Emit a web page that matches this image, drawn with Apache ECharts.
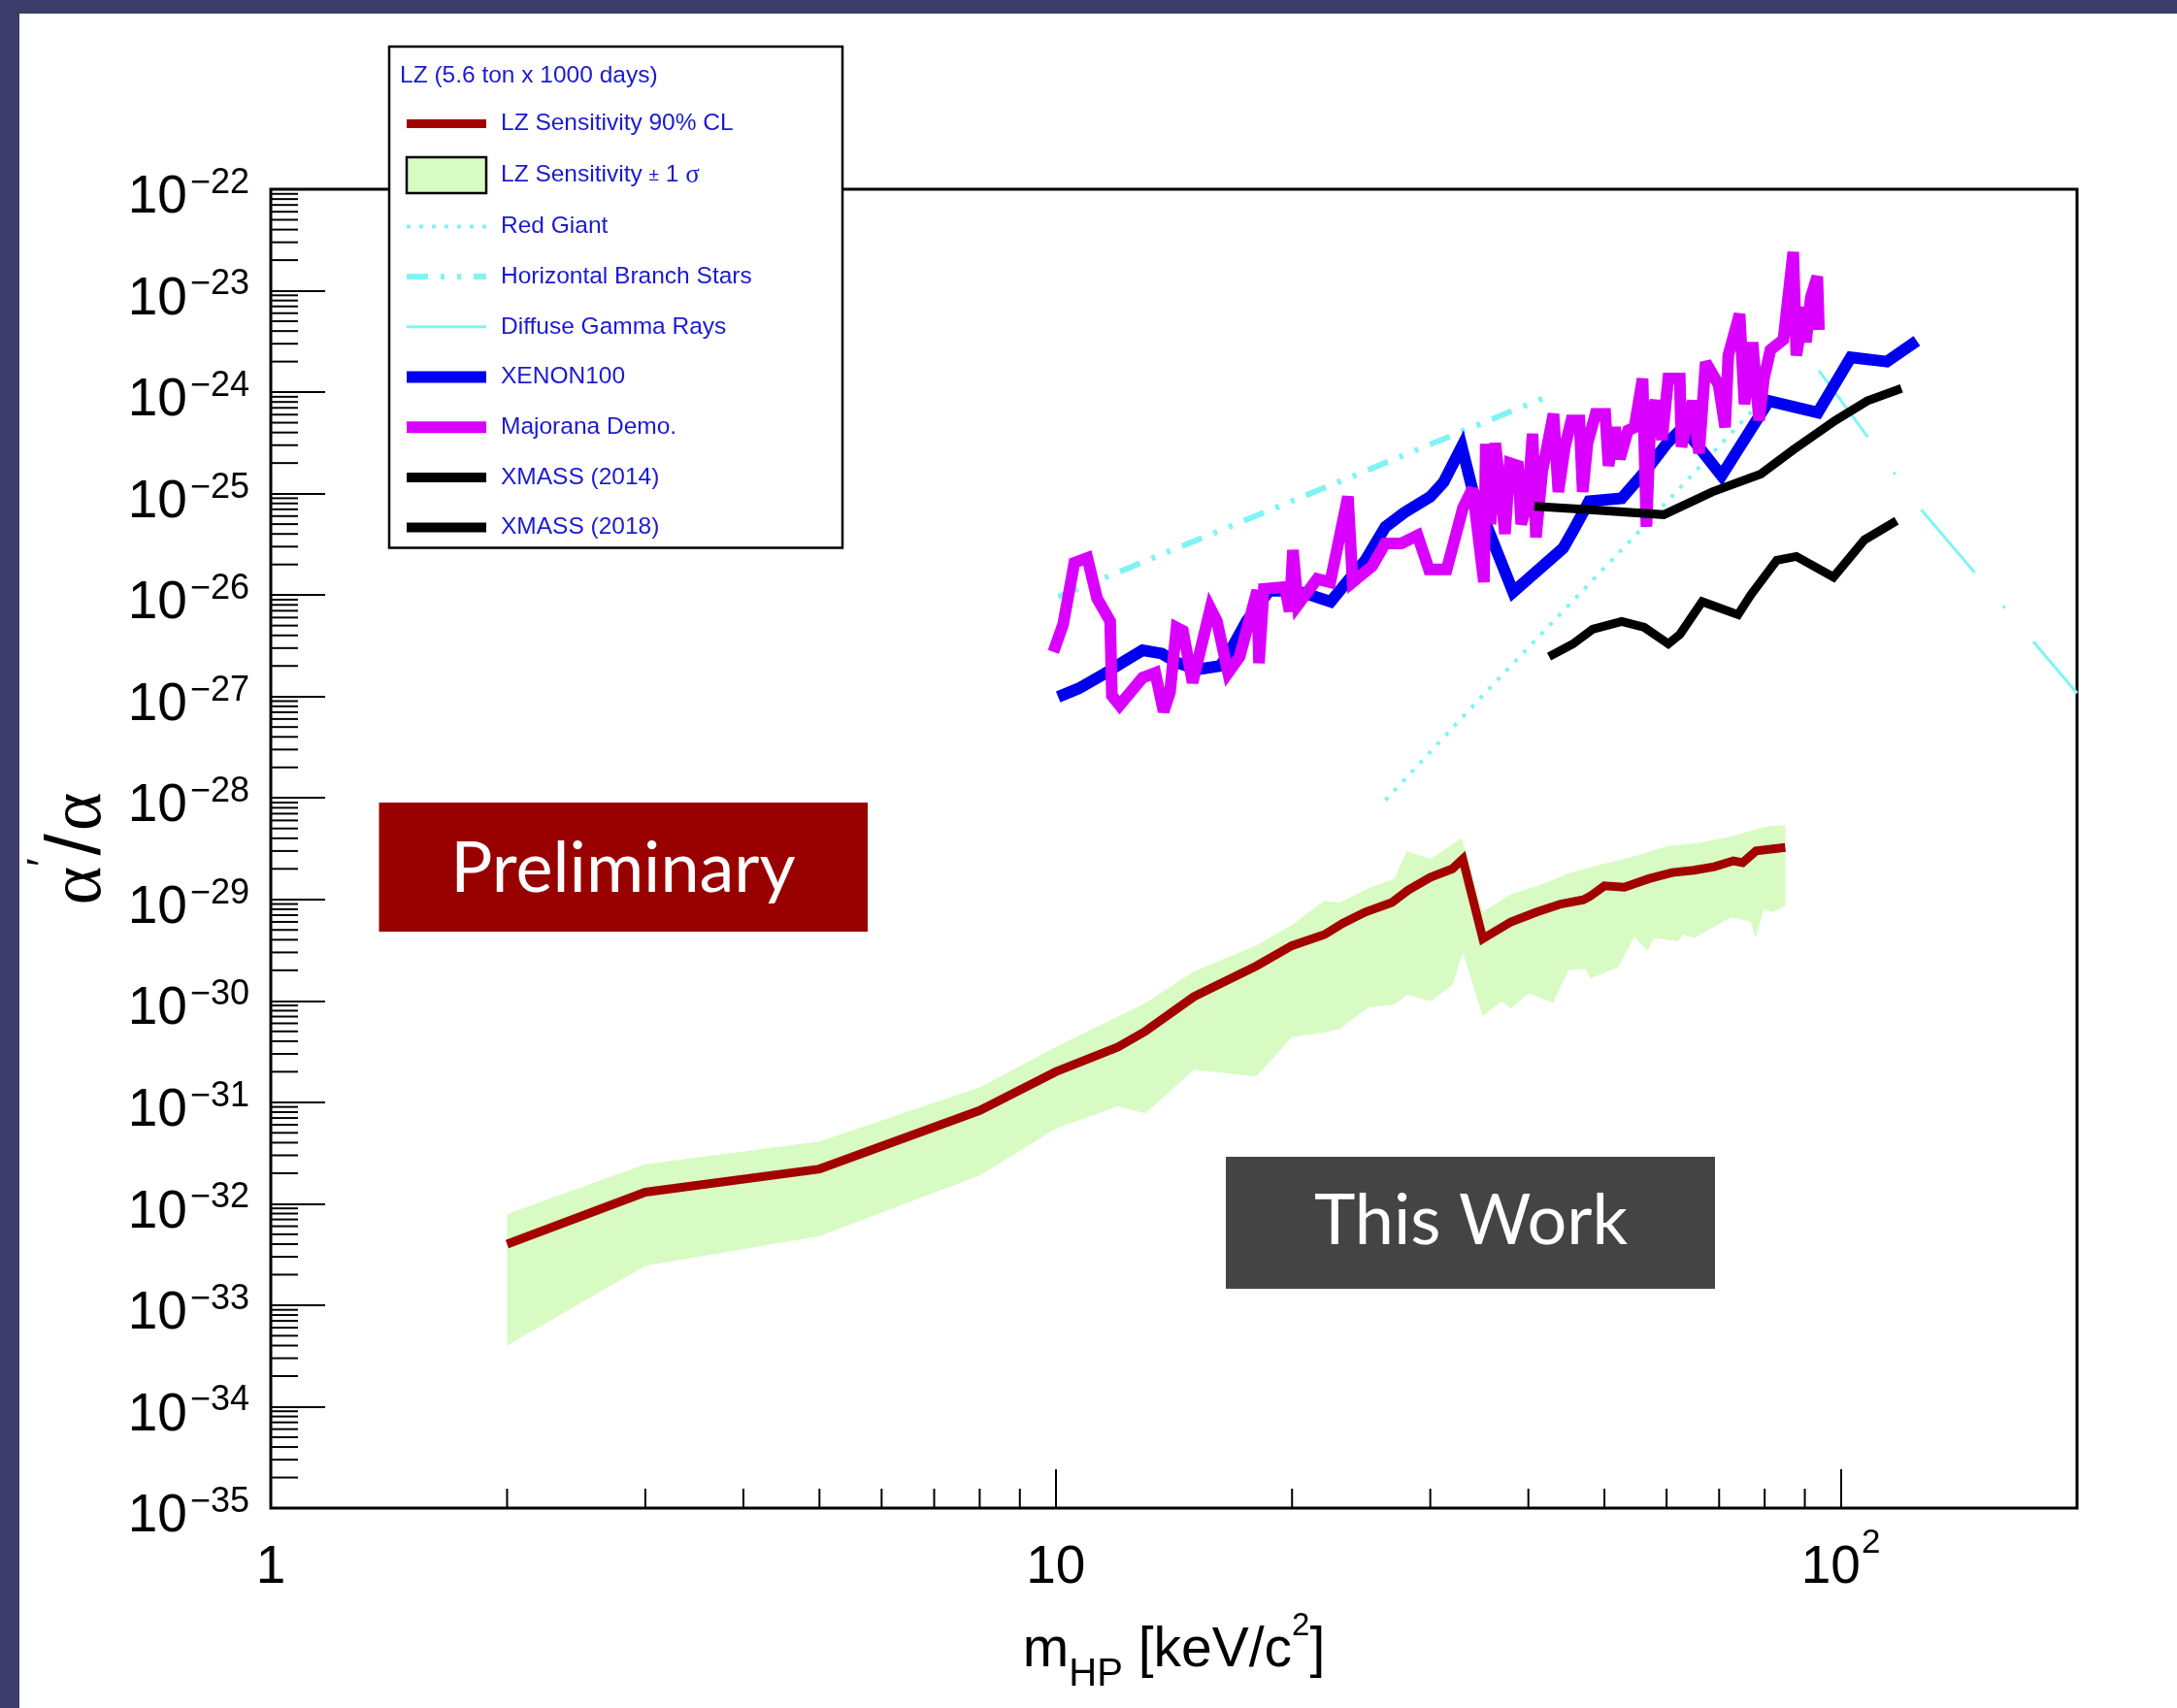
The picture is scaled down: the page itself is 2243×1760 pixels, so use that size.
<!DOCTYPE html>
<html>
<head>
<meta charset="utf-8">
<script src="https://cdn.jsdelivr.net/npm/echarts@6/dist/echarts.min.js"></script>
<style>
html, body { margin: 0; padding: 0; background: #3c3d6a; }
#chart { width: 2243px; height: 1760px; }
</style>
</head>
<body>
<div id="chart"></div>
<script>
// Hidden-photon dark matter: kinetic-mixing limits alpha'/alpha versus mass m_HP

// LZ projected sensitivity, 90% CL
const lzMass  = [2, 3, 5, 8, 10, 12, 13, 15, 18, 20, 22, 23.2, 24.8, 26.8, 28.1, 30, 32, 33, 35, 38, 41, 44, 47, 48, 50, 53, 57, 61, 65, 69, 73, 75, 78, 85];
const lzLimit = [4.0e-33, 1.3e-32, 2.2e-32, 8.3e-32, 2.0e-31, 3.5e-31, 5.0e-31, 1.1e-30, 2.2e-30, 3.5e-30, 4.5e-30, 5.8e-30, 7.5e-30, 9.3e-30, 1.23e-29, 1.65e-29, 2.0e-29, 2.5e-29, 4.1e-30, 6.0e-30, 7.5e-30, 9.0e-30, 9.9e-30, 1.08e-29, 1.36e-29, 1.32e-29, 1.6e-29, 1.84e-29, 1.94e-29, 2.1e-29, 2.4e-29, 2.3e-29, 3.0e-29, 3.25e-29];

// LZ +/- 1 sigma band edges
const bandUpMass = [2, 3, 5, 8, 10, 13, 15, 18, 20, 22, 23, 25.1, 27, 28, 30, 32.9, 35, 38, 41, 45, 50, 55, 60, 66, 73, 80, 85];
const bandUpVal  = [7.9e-33, 2.45e-32, 4.1e-32, 1.4e-31, 3.5e-31, 9.5e-31, 1.95e-30, 3.5e-30, 5.6e-30, 9.7e-30, 9.3e-30, 1.3e-29, 1.6e-29, 3.0e-29, 2.5e-29, 4.0e-29, 7.5e-30, 1.12e-29, 1.35e-29, 1.8e-29, 2.25e-29, 2.7e-29, 3.35e-29, 3.6e-29, 4.2e-29, 5.2e-29, 5.4e-29];
const bandLoMass = [2, 3, 5, 8, 10, 12, 13, 15, 18, 20, 22, 23, 25, 27, 28, 30, 32, 33, 35, 37, 38, 40, 43, 45, 47.3, 48, 52, 54.6, 56.7, 57.8, 62, 63, 65, 72.6, 76.8, 77.9, 79.8, 82, 85];
const bandLoVal  = [4.0e-34, 2.45e-33, 4.8e-33, 1.9e-32, 5.5e-32, 9.2e-32, 7.8e-32, 2.1e-31, 1.8e-31, 4.4e-31, 4.9e-31, 5.3e-31, 8.6e-31, 9.2e-31, 1.15e-30, 9.9e-31, 1.43e-30, 3.0e-30, 7.1e-31, 9.9e-31, 8.4e-31, 1.19e-30, 9.6e-31, 2.0e-30, 2.07e-30, 1.66e-30, 2.14e-30, 4.3e-30, 3.1e-30, 4.15e-30, 3.86e-30, 4.5e-30, 4.15e-30, 6.7e-30, 6.0e-30, 4.15e-30, 8.0e-30, 7.5e-30, 8.65e-30];

// Astrophysical bounds
const rgMass = [26.3, 35.3, 56.2, 78];
const rgVal  = [9.5e-29, 1.1e-27, 4.8e-26, 7.2e-25];
const hbMass = [10.07, 41.9];
const hbVal  = [9.6e-27, 8.8e-25];
const dgMass = [93.8, 126.5, 200];
const dgVal  = [1.63e-24, 7.0e-26, 1.08e-27];

// XENON100
const xeMass = [10.07, 10.7, 11.5, 12.2, 12.9, 13.65, 14.3, 15.15, 16.2, 16.7, 17.5, 18.7, 20.15, 21.1, 22.4, 23.5, 24.8, 26.3, 27.8, 30.0, 31.2, 32.9, 34.0, 38.25, 44.3, 45.6, 47.8, 52.6, 56.7, 60, 63, 70.5, 81, 93.5, 103, 114.5, 125];
const xeVal  = [9.9e-28, 1.2e-27, 1.65e-27, 2.2e-27, 2.85e-27, 2.65e-27, 2.15e-27, 1.85e-27, 2.0e-27, 2.85e-27, 5.5e-27, 1.1e-26, 1.1e-26, 1.0e-26, 8.6e-27, 1.35e-26, 2.2e-26, 4.7e-26, 6.5e-26, 9.3e-26, 1.3e-25, 2.9e-25, 1.05e-25, 1.07e-26, 2.9e-26, 4.3e-26, 8.4e-26, 9.0e-26, 1.75e-25, 3.1e-25, 4.5e-25, 1.5e-25, 8.2e-25, 6.3e-25, 2.2e-24, 2.0e-24, 3.2e-24];

// Majorana Demonstrator
const mjMass = [9.93, 10.22, 10.56, 10.97, 11.29, 11.73, 11.79, 12.06, 12.9, 13.39, 13.72, 13.98, 14.25, 14.52, 14.94, 15.74, 16.04, 16.58, 17.15, 18.06, 18.15, 18.41, 19.58, 19.86, 20.05, 20.34, 21.53, 22.37, 23.56, 23.89, 25.3, 26.28, 27.56, 28.9, 29.88, 31.48, 33.02, 33.96, 35.11, 35.3, 35.8, 36.3, 36.8, 37.35, 37.88, 38.8, 39.17, 39.92, 40.5, 40.9, 41.65, 43.06, 43.68, 44.53, 45.37, 46.47, 46.91, 47.58, 48.72, 50.12, 50.6, 51.57, 52.31, 53.58, 54.6, 55.92, 56.56, 57.26, 58.08, 59.2, 60.3, 62.37, 62.67, 64.77, 66.0, 67.28, 69.89, 71.24, 71.91, 74.33, 75.4, 77.21, 78.7, 79.83, 81.36, 84.53, 87.0, 87.8, 89.86, 90.3, 91.6, 93.37, 93.8];
const mjVal  = [2.75e-27, 5.15e-27, 2.08e-26, 2.32e-26, 9.25e-27, 5.53e-27, 1.02e-27, 8.2e-28, 1.53e-27, 1.71e-27, 7.1e-28, 1.1e-27, 4.78e-27, 4.44e-27, 1.37e-27, 7.4e-27, 5.53e-27, 1.71e-27, 2.47e-27, 1.11e-26, 2.13e-27, 1.15e-26, 1.2e-26, 6.9e-27, 2.78e-26, 8.0e-27, 1.44e-26, 1.34e-26, 9.35e-26, 1.34e-26, 1.93e-26, 3.23e-26, 3.23e-26, 3.87e-26, 1.79e-26, 1.79e-26, 7.24e-26, 1.12e-25, 1.34e-26, 3.1e-25, 5.0e-26, 3.14e-25, 1.21e-25, 4.0e-26, 2.0e-25, 1.88e-25, 5.0e-26, 8.4e-26, 3.9e-25, 3.7e-26, 1.62e-25, 6.1e-25, 1.04e-25, 2.9e-25, 5.25e-25, 5.25e-25, 1.04e-25, 3.14e-25, 6.1e-25, 6.1e-25, 1.88e-25, 4.5e-25, 2.2e-25, 4.2e-25, 4.5e-25, 1.36e-24, 4.7e-26, 6.1e-25, 8.2e-25, 3.4e-25, 1.36e-24, 1.36e-24, 2.9e-25, 8.2e-25, 2.5e-25, 1.97e-24, 1.18e-24, 4.5e-25, 2.3e-24, 5.9e-24, 7.6e-25, 3.1e-24, 5.25e-25, 1.36e-24, 2.6e-24, 3.3e-24, 2.4e-23, 2.3e-24, 6.9e-24, 3.1e-24, 8.6e-24, 1.38e-23, 4.1e-24];

// XMASS results
const x14Mass = [40.7, 46.9, 59.5, 68.6, 79.1, 87, 98.4, 108.1, 119.5];
const x14Val  = [7.5e-26, 7.0e-26, 6.2e-26, 1.04e-25, 1.56e-25, 2.7e-25, 5.25e-25, 8.2e-25, 1.09e-24];
const x18Mass = [42.5, 45.6, 48.3, 52.6, 56.2, 60.3, 62.4, 66.6, 74.0, 76.8, 82.9, 87.8, 97.9, 107.2, 117.8];
const x18Val  = [2.47e-27, 3.3e-27, 4.6e-27, 5.5e-27, 4.8e-27, 3.3e-27, 4.1e-27, 8.6e-27, 6.4e-27, 1.0e-26, 2.2e-26, 2.4e-26, 1.5e-26, 3.5e-26, 5.4e-26];

// Axis tick labels (decade exponents) and minor tick positions
const xTickExp  = [0, 1, 2];
const xTickBase = ['1', '10', '10'];
const xTickSup  = ['', '', '2'];
const yTickExp  = [-35, -34, -33, -32, -31, -30, -29, -28, -27, -26, -25, -24, -23, -22];
const xMinorTicks = [2, 3, 4, 5, 6, 7, 8, 9, 20, 30, 40, 50, 60, 70, 80, 90];
const minorMantissa = [2, 3, 4, 5, 6, 7, 8, 9];

const SANS = '"Liberation Sans", Arial, Helvetica, sans-serif';
const SERIF = '"Liberation Serif", "DejaVu Serif", serif';
const BOX_FONT = 'Lato, "Open Sans", sans-serif';
const LEGEND_BLUE = '#1a1ad2';
const CYAN = '#80f4f4';
const GREEN = '#d7fbc2';
const X_MIN = 1, Y_MIN = 1e-35;

const pairs = (xs, ys) => xs.map((x, i) => [x, ys[i]]);

const xMajorValues = xTickExp.map(e => Math.pow(10, e));
const yMinorData = [];
yTickExp.slice(0, -1).forEach(e => minorMantissa.forEach(k => yMinorData.push([X_MIN, k * Math.pow(10, e)])));
const xMinorData = xMinorTicks.map(m => [m, Y_MIN]);

function decadeOf(v) {
  const l = Math.log10(v);
  return Math.abs(l - Math.round(l)) < 1e-6 ? Math.round(l) : null;
}

function xLabel(v) {
  const i = xTickExp.indexOf(decadeOf(v));
  if (i < 0) return '';
  return '{b|' + xTickBase[i] + '}' + (xTickSup[i] ? '{s|' + xTickSup[i] + '}' : '');
}

// The decade labels sit on an exponent axis that shares the grid with the log axis
function yLabel(e) {
  const n = Math.round(e);
  if (yTickExp.indexOf(n) < 0) return '';
  return '{b|10}{s|\u2212' + (-n) + '}';
}

const lineSeries = (name, xs, ys, color, width, type) => ({
  name, type: 'line', data: pairs(xs, ys), symbol: 'none', showSymbol: false,
  silent: true, clip: true, yAxisIndex: 0,
  lineStyle: { color, width, type: type || 'solid', join: 'miter', miterLimit: 3 },
  itemStyle: { color }
});

const legendLine = (name, width) => ({ name, lineStyle: { width }, itemStyle: { opacity: 0 } });

const chart = echarts.init(document.getElementById('chart'), null, { renderer: 'canvas', width: 2243, height: 1760 });

const option = {
  animation: false,
  backgroundColor: '#3c3d6a',
  textStyle: { fontFamily: SANS },
  title: {
    text: 'LZ (5.6 ton x 1000 days)',
    left: 412, top: 63, padding: 0, z: 10,
    textStyle: { fontFamily: SANS, fontSize: 24.5, fontWeight: 'normal', color: LEGEND_BLUE, lineHeight: 30 }
  },
  grid: { left: 279, top: 195, right: 103, bottom: 206, show: true, borderColor: '#000', borderWidth: 3 },
  xAxis: {
    type: 'log', logBase: 10, min: 1, max: 200,
    axisLine: { show: false },
    axisTick: { show: true, inside: true, length: 40, customValues: xMajorValues, lineStyle: { color: '#000', width: 2 } },
    minorTick: { show: false },
    splitLine: { show: false },
    axisLabel: {
      margin: 18, formatter: xLabel, customValues: xMajorValues,
      rich: {
        b: { fontSize: 55, fontFamily: SANS, color: '#000', padding: [16.5, 0, 0, 0] },
        s: { fontSize: 35, fontFamily: SANS, color: '#000', verticalAlign: 'top', padding: [1, 0, 0, 1] }
      }
    },
    name: '{m|m}{sub|HP}{m| [keV/c}{sup|2}{m|]}',
    nameLocation: 'middle', nameGap: 105.5,
    nameTextStyle: {
      rich: {
        m: { fontSize: 57, fontFamily: SANS, color: '#000', verticalAlign: 'top', padding: [13.3, 0, 0, 0] },
        sub: { fontSize: 40, fontFamily: SANS, color: '#000', verticalAlign: 'top', padding: [46.5, 0, 0, 0] },
        sup: { fontSize: 33, fontFamily: SANS, color: '#000', verticalAlign: 'top', padding: [0, 0, 0, 0] }
      }
    }
  },
  yAxis: [
    {
      type: 'log', logBase: 10, min: 1e-35, max: 1e-22,
      axisLine: { show: false }, axisTick: { show: false }, axisLabel: { show: false },
      minorTick: { show: false }, splitLine: { show: false }
    },
    {
      type: 'value', min: yTickExp[0], max: yTickExp[yTickExp.length - 1], interval: 1, position: 'left',
      axisLine: { show: false },
      axisTick: { show: true, inside: true, length: 56, lineStyle: { color: '#000', width: 2 } },
      minorTick: { show: false },
      splitLine: { show: false },
      axisLabel: {
        margin: 22, formatter: yLabel, showMinLabel: true, showMaxLabel: true,
        rich: {
          b: { fontSize: 55, fontFamily: SANS, color: '#000', padding: [18, 0, 0, 0] },
          s: { fontSize: 36, fontFamily: SANS, color: '#000', verticalAlign: 'top', padding: [12.5, 0, 0, 3] }
        }
      },
      name: '{a|\u03b1}{p|\u2032}{sl|/}{a|\u03b1}',
      nameLocation: 'middle', nameRotate: 90, nameGap: 157,
      nameTextStyle: {
        rich: {
          a: { fontSize: 76, lineHeight: 96, fontFamily: SERIF, color: '#000', verticalAlign: 'bottom' },
          sl: { fontSize: 80, lineHeight: 96, fontFamily: SANS, color: '#000', verticalAlign: 'bottom', padding: [0, 3, 0, 3] },
          p: { fontSize: 44, fontFamily: SANS, color: '#000', verticalAlign: 'top' }
        }
      }
    }
  ],
  legend: {
    orient: 'vertical', left: 401, top: 48,
    padding: [61, 22, 2.5, 12],
    itemWidth: 82, itemHeight: 37, itemGap: 14.7,
    backgroundColor: '#fff', borderColor: '#000', borderWidth: 2.5,
    selectedMode: false,
    textStyle: {
      fontFamily: SANS, fontSize: 24.5, color: LEGEND_BLUE, lineHeight: 37, width: 330, padding: [0, 0, 0, 10],
      rich: {
        t: { fontFamily: SANS, fontSize: 24.5, color: LEGEND_BLUE, lineHeight: 37 },
        pm: { fontFamily: SANS, fontSize: 19, color: LEGEND_BLUE, lineHeight: 37 },
        g: { fontFamily: SERIF, fontSize: 27, color: LEGEND_BLUE, lineHeight: 37 }
      }
    },
    formatter: name => name.indexOf('\u03c3') >= 0
      ? '{t|LZ Sensitivity }{pm|\u00b1}{t| 1 }{g|\u03c3}'
      : name,
    data: [
      legendLine('LZ Sensitivity 90% CL', 9),
      { name: 'LZ Sensitivity \u00b1 1 \u03c3', icon: 'rect', itemStyle: { color: GREEN, borderColor: '#000', borderWidth: 2.5, opacity: 1 } },
      legendLine('Red Giant', 4),
      legendLine('Horizontal Branch Stars', 6),
      legendLine('Diffuse Gamma Rays', 3),
      legendLine('XENON100', 12),
      legendLine('Majorana Demo.', 12),
      legendLine('XMASS (2014)', 10),
      legendLine('XMASS (2018)', 10)
    ]
  },
  graphic: [
    { type: 'rect', silent: true, z: -10, shape: { x: 20, y: 14, width: 2223, height: 1746 }, style: { fill: '#fff' } },
    { type: 'rect', silent: true, z: 20, shape: { x: 390.5, y: 827, width: 503.5, height: 133 }, style: { fill: '#990000' } },
    { type: 'text', silent: true, z: 21, x: 642, y: 896,
      style: { text: 'Preliminary', fill: '#fff', fontSize: 72, fontFamily: BOX_FONT, align: 'center', verticalAlign: 'middle' } },
    { type: 'rect', silent: true, z: 20, shape: { x: 1263, y: 1192, width: 504, height: 136 }, style: { fill: '#444444' } },
    { type: 'text', silent: true, z: 21, x: 1515.5, y: 1259,
      style: { text: 'This Work', fill: '#fff', fontSize: 72, fontFamily: BOX_FONT, align: 'center', verticalAlign: 'middle' } }
  ],
  series: [
    {
      name: 'LZ Sensitivity \u00b1 1 \u03c3', type: 'custom', coordinateSystem: 'cartesian2d', yAxisIndex: 0,
      silent: true, clip: true,
      itemStyle: { color: GREEN },
      data: [[bandUpMass[0], bandUpVal[0]]],
      renderItem: (params, api) => {
        const pts = [];
        for (let i = 0; i < bandUpMass.length; i++) pts.push(api.coord([bandUpMass[i], bandUpVal[i]]));
        for (let i = bandLoMass.length - 1; i >= 0; i--) pts.push(api.coord([bandLoMass[i], bandLoVal[i]]));
        return { type: 'polygon', shape: { points: pts }, style: { fill: GREEN } };
      }
    },
    lineSeries('LZ Sensitivity 90% CL', lzMass, lzLimit, '#a30000', 9),
    lineSeries('Red Giant', rgMass, rgVal, CYAN, 4, [4, 9]),
    lineSeries('Horizontal Branch Stars', hbMass, hbVal, CYAN, 6, [22, 13, 4, 13, 4, 13]),
    lineSeries('Diffuse Gamma Rays', dgMass, dgVal, CYAN, 3, [85, 45, 3, 45]),
    lineSeries('XENON100', xeMass, xeVal, '#0000f0', 12),
    lineSeries('Majorana Demo.', mjMass, mjVal, '#da00ff', 12),
    lineSeries('XMASS (2014)', x14Mass, x14Val, '#000000', 9),
    lineSeries('XMASS (2018)', x18Mass, x18Val, '#000000', 9),
    {
      name: 'y minor ticks', type: 'custom', coordinateSystem: 'cartesian2d', yAxisIndex: 0, silent: true, z: 5,
      data: yMinorData,
      renderItem: (params, api) => {
        const p = api.coord([api.value(0), api.value(1)]);
        return { type: 'line', shape: { x1: p[0], y1: p[1], x2: p[0] + 28, y2: p[1] }, style: { stroke: '#000', lineWidth: 2 } };
      }
    },
    {
      name: 'x minor ticks', type: 'custom', coordinateSystem: 'cartesian2d', yAxisIndex: 0, silent: true, z: 5,
      data: xMinorData,
      renderItem: (params, api) => {
        const p = api.coord([api.value(0), api.value(1)]);
        return { type: 'line', shape: { x1: p[0], y1: p[1], x2: p[0], y2: p[1] - 20 }, style: { stroke: '#000', lineWidth: 2 } };
      }
    }
  ]
};

chart.setOption(option);
</script>
</body>
</html>
